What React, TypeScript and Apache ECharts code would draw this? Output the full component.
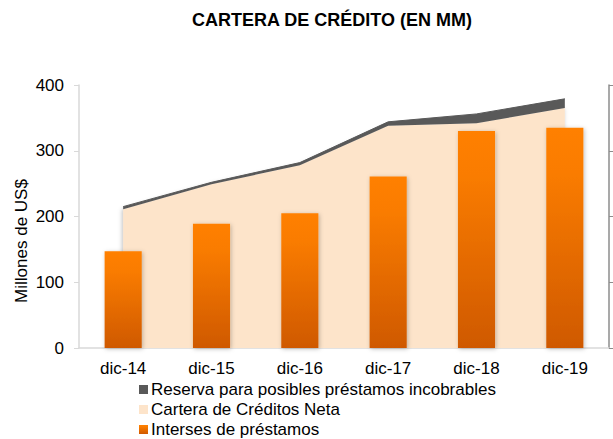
import React, { useEffect, useRef } from "react";
import * as echarts from "echarts";

const categories = ["dic-14", "dic-15", "dic-16", "dic-17", "dic-18", "dic-19"];
const carteraNeta = [211, 249, 278, 338, 342, 365];
const reserva = [4, 3, 4, 6, 14, 14];
const intereses = [147, 189, 205, 261, 330, 335];
const yTicks = { min: 0, max: 400, interval: 100 };

const FONT = "'Liberation Sans', Arial, sans-serif";

export default function App() {
  const ref = useRef<HTMLDivElement>(null);
  useEffect(() => {
    if (!ref.current) return;
    const chart = echarts.init(ref.current, undefined, { renderer: "svg" });
    chart.setOption({
      animation: false,
      backgroundColor: "#ffffff",
      textStyle: { fontFamily: FONT },
      title: {
        text: "CARTERA DE CRÉDITO (EN MM)",
        left: 332,
        textAlign: "center",
        top: 11,
        padding: 0,
        textStyle: { fontSize: 18, fontWeight: "bold", color: "#000000", fontFamily: FONT },
      },
      graphic: [
        {
          type: "text",
          x: 21,
          y: 241,
          rotation: Math.PI / 2,
          style: {
            text: "Millones de US$",
            fontSize: 17,
            fontFamily: FONT,
            fill: "#000000",
            textAlign: "center",
            textVerticalAlign: "middle",
          },
        },
      ],
      legend: {
        orient: "vertical",
        left: 139,
        top: 381,
        padding: 0,
        itemWidth: 9,
        itemHeight: 9,
        itemGap: 3,
        icon: "rect",
        data: ["Reserva para posibles préstamos incobrables", "Cartera de Créditos Neta", "Interses de préstamos"],
        textStyle: { fontSize: 17, color: "#000000", fontFamily: FONT, lineHeight: 17, padding: [0, 0, 0, -2] },
      },
      grid: { left: 79, right: 4, top: 85, bottom: 91 },
      xAxis: {
        type: "category",
        data: categories,
        boundaryGap: true,
        axisLine: { show: true, lineStyle: { color: "#D9D9D9", width: 1.5 } },
        axisTick: { show: false },
        axisLabel: { fontSize: 17, color: "#000000", margin: 12, fontFamily: FONT },
      },
      yAxis: [
        {
          type: "value",
          min: yTicks.min,
          max: yTicks.max,
          interval: yTicks.interval,
          axisLine: { show: true, lineStyle: { color: "#D9D9D9", width: 1.5 } },
          axisTick: { show: true, length: 5, lineStyle: { color: "#D9D9D9" } },
          axisLabel: { fontSize: 17, color: "#000000", margin: 15, fontFamily: FONT },
          splitLine: { show: false },
        },
        {
          type: "value",
          position: "right",
          min: yTicks.min,
          max: yTicks.max,
          interval: yTicks.interval,
          axisLine: { show: true, lineStyle: { color: "#8C8C8C", width: 1.5 } },
          axisTick: { show: true, inside: false, length: 5, lineStyle: { color: "#8C8C8C" } },
          axisLabel: { show: false },
          splitLine: { show: false },
        },
      ],
      series: [
        {
          name: "Cartera de Créditos Neta",
          type: "line",
          stack: "total",
          data: carteraNeta,
          symbol: "none",
          lineStyle: { width: 0 },
          itemStyle: { color: "#FDE4CA" },
          areaStyle: {
            color: "#FDE4CA",
            opacity: 1,
            shadowColor: "rgba(0,0,0,0.25)",
            shadowBlur: 4,
            shadowOffsetX: -1,
          },
          z: 1,
        },
        {
          name: "Reserva para posibles préstamos incobrables",
          type: "line",
          stack: "total",
          data: reserva,
          symbol: "none",
          lineStyle: { width: 1, color: "#595959" },
          itemStyle: { color: "#595959" },
          areaStyle: { color: "#595959", opacity: 1 },
          z: 1,
        },
        {
          name: "Interses de préstamos",
          type: "bar",
          data: intereses,
          barWidth: "42%",
          itemStyle: {
            color: new echarts.graphic.LinearGradient(0, 0, 0, 1, [
              { offset: 0, color: "#FF8000" },
              { offset: 0.2, color: "#FA7C00" },
              { offset: 1, color: "#CF5900" },
            ]),
            shadowColor: "rgba(0,0,0,0.25)",
            shadowBlur: 4,
            shadowOffsetX: 1,
            shadowOffsetY: 1,
          },
          z: 3,
        },
      ],
    });
    return () => chart.dispose();
  }, []);
  return <div ref={ref} style={{ width: 613, height: 439, position: "absolute", left: 0, top: 0 }} />;
}
